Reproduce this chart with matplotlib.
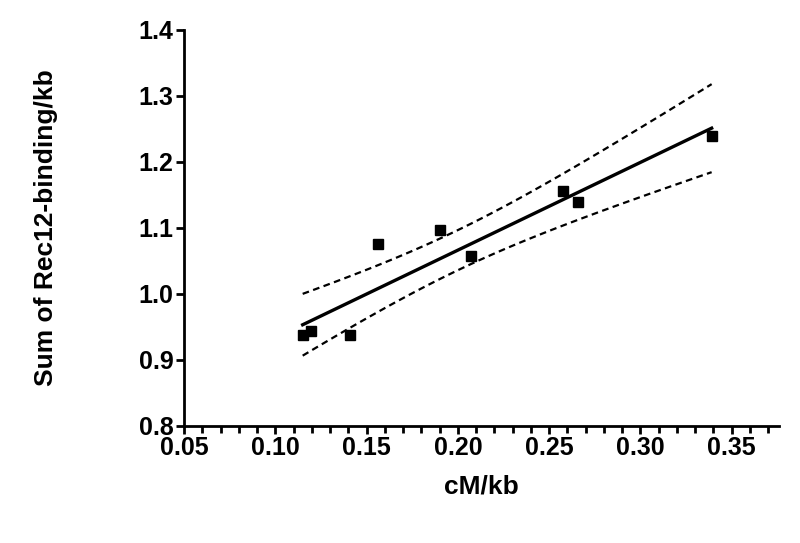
import numpy as np
import matplotlib.pyplot as plt
from matplotlib.ticker import MultipleLocator

# data
cm_per_kb = [0.115, 0.1195, 0.141, 0.156, 0.190, 0.207, 0.2575, 0.266, 0.339]
rec12_sum = [0.938, 0.944, 0.938, 1.076, 1.097, 1.058, 1.156, 1.139, 1.239]

x = np.array(cm_per_kb)
y = np.array(rec12_sum)

# linear fit + 95% confidence band of the mean
slope, intercept = np.polyfit(x, y, 1)
n = len(x)
resid = y - (slope * x + intercept)
s = np.sqrt(np.sum(resid**2) / (n - 2))
t = 2.365  # t(0.975, df=7)
xf = np.linspace(x.min(), x.max(), 100)
yf = slope * xf + intercept
se = s * np.sqrt(1 / n + (xf - x.mean())**2 / np.sum((x - x.mean())**2))

plt.rcParams['font.family'] = ['Liberation Sans', 'DejaVu Sans']
plt.rcParams['font.weight'] = 'bold'

fig = plt.figure(figsize=(8, 5.43), dpi=100)
ax = fig.add_axes([0.23, 0.2155, 0.744, 0.7295])

ax.plot(xf, yf, color='black', lw=2.4)
ax.plot(xf, yf + t * se, color='black', lw=1.6, ls=(0, (3, 2)))
ax.plot(xf, yf - t * se, color='black', lw=1.6, ls=(0, (3, 2)))
ax.plot(x, y, 's', color='black', markersize=6.5)

ax.set_xlim(0.05, 0.376)
ax.set_ylim(0.8, 1.4)
ax.xaxis.set_major_locator(MultipleLocator(0.05))
ax.xaxis.set_minor_locator(MultipleLocator(0.01))
ax.yaxis.set_major_locator(MultipleLocator(0.1))
ax.xaxis.set_major_formatter(lambda v, p: f"{v:.2f}")
ax.yaxis.set_major_formatter(lambda v, p: f"{v:.1f}")

for side in ['top', 'right']:
    ax.spines[side].set_visible(False)
for side in ['left', 'bottom']:
    ax.spines[side].set_linewidth(2)

ax.tick_params(which='both', width=2, direction='out', labelsize=18)
ax.tick_params(which='major', length=6)
ax.tick_params(which='minor', length=5)
ax.tick_params(axis='x', pad=1)
ax.tick_params(axis='y', pad=1.5)

ax.set_xlabel("cM/kb", fontsize=19, fontweight='bold', labelpad=11)
ax.set_ylabel("Sum of Rec12-binding/kb", fontsize=19, fontweight='bold', labelpad=58)

fig.savefig("out.png", dpi=100)
